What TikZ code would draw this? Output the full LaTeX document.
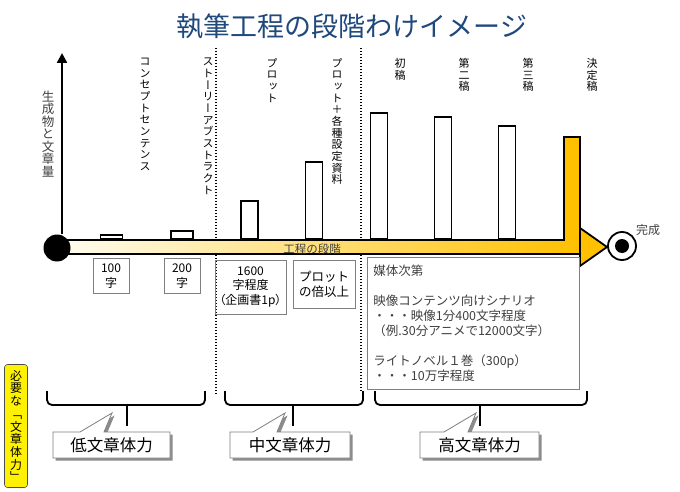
\documentclass[tikz,border=0pt]{standalone}
\usepackage{fontspec}
\setmainfont{Noto Sans CJK JP}
\newfontfamily\vfont[RawFeature=+vert]{Noto Sans CJK JP}
\usetikzlibrary{shadows,arrows.meta}
\definecolor{titleblue}{HTML}{1F497D}
\definecolor{gold}{HTML}{FFC000}
\definecolor{cream}{RGB}{255,253,240}
\definecolor{creammid}{RGB}{254,240,190}
\definecolor{boxgray}{HTML}{7F7F7F}
\definecolor{txtgray}{HTML}{404040}
\def\vtend{VTEND}
\def\vtloop#1{\ifx#1\vtend\else\hbox to 1em{\hss#1\hss}\expandafter\vtloop\fi}
\newcommand\vtxt[2][1.06]{\vbox{\baselineskip=#1em\lineskiplimit=-20pt\relax\vtloop#2\vtend}}
\begin{document}
\begin{tikzpicture}[x=1pt,y=-1pt,
  bar/.style={draw=black, line width=1.8pt, fill=white, anchor=south, minimum width=17, inner sep=0pt},
  vlab/.style={anchor=north, inner sep=0pt, font=\vfont\fontsize{11}{11}\selectfont},
  valbox/.style={draw=boxgray, line width=0.8pt, align=center, font=\fontsize{12}{14.5}\selectfont, inner sep=0pt},
  brace/.style={line width=1.8pt, rounded corners=5pt},
  dotline/.style={line width=1.4pt, dash pattern=on 1.4pt off 1.6pt},
  callout/.style={draw=boxgray, fill=white, line width=0.8pt, drop shadow={shadow xshift=2.5pt, shadow yshift=-2.5pt, fill=black!45, opacity=1}},
  calltext/.style={font=\fontsize{16.5}{18}\selectfont, inner sep=0pt}]
\fill[white] (0,0) rectangle (680,492);
\useasboundingbox (0,0) rectangle (680,492);

% title
\node[font=\fontsize{27}{30}\selectfont, text=titleblue] (title) at (352,26) {執筆工程の段階わけイメージ};

% dotted separators
\coordinate (d1t) at (216,48); \coordinate (d1b) at (216,394);
\coordinate (d2t) at (361,48); \coordinate (d2b) at (361,392);
\draw[dotline] (d1t) -- (d1b);
\draw[dotline] (d2t) -- (d2b);

% process bar
\shade[left color=cream, middle color=creammid, right color=gold] (61,240) rectangle (580,254);
\draw[line width=2.2pt] (61,240) -- (564,240);
\draw[line width=1.8pt] (61,254) -- (580,254);
\node[font=\fontsize{11.5}{13}\selectfont, text=txtgray, inner sep=0pt] (proc) at (312,249) {工程の段階};

% bars
\node[bar, minimum width=22, minimum height=4] (b1) at (111.5,240) {};
\node[bar, minimum width=22, minimum height=8] (b2) at (182,240) {};
\node[bar, minimum height=38] (b3) at (249.5,240) {};
\node[bar, minimum height=77] (b4) at (314,240) {};
\node[bar, minimum height=126] (b5) at (379,240) {};
\node[bar, minimum height=122] (b6) at (443,240) {};
\node[bar, minimum height=113] (b7) at (507,240) {};
\draw[fill=gold, line width=1.8pt] (564,241) -- (564,137) -- (580,137) -- (580,241);

% arrow head of the process bar
\draw[fill=gold, line width=1.8pt, line join=miter] (580,228) -- (607,247) -- (580,266) -- cycle;

% bar labels
\node[vlab] (l1) at (145,58) {\vtxt{コンセプトセンテンス}};
\node[vlab] (l2) at (208,58) {\vtxt{ストーリーアブストラクト}};
\node[vlab] (l3) at (272,58) {\vtxt{プロット}};
\node[vlab] (l4) at (337,58) {\vtxt{プロット＋各種設定資料}};
\node[vlab] (l5) at (400,58) {\vtxt{初稿}};
\node[vlab] (l6) at (464,58) {\vtxt{第二稿}};
\node[vlab] (l7) at (528,58) {\vtxt{第三稿}};
\node[vlab] (l8) at (592,58) {\vtxt{決定稿}};

% axis and start / end circles
\node[circle, fill=black, minimum size=27, inner sep=0pt] (start) at (57,248) {};
\coordinate (ytop) at (62,53);
\draw[line width=2.4pt, -{Triangle[width=10pt,length=10pt]}] (ytop |- start.north) -- (ytop);
\node[anchor=center, inner sep=0pt, text=txtgray, font=\vfont\fontsize{12.5}{12.5}\selectfont] (ylab) at (48,134) {\vtxt[1.0]{生成物と文章量}};
\node[circle, draw=black, line width=1.8pt, fill=white, minimum size=28, inner sep=0pt] (fin) at (622,246) {};
\node[circle, fill=black, minimum size=14, inner sep=0pt] (finc) at (fin.center) {};
\node[font=\fontsize{12}{14}\selectfont, text=txtgray] (done) at (648,230) {完成};

% value boxes
\node[valbox, minimum width=36, minimum height=35] (v1) at (111,276) {100\\字};
\node[valbox, minimum width=36, minimum height=35] (v2) at (182,276) {200\\字};
\node[valbox, minimum width=71, minimum height=54, font=\fontsize{12}{14.5}\selectfont\addfontfeatures{RawFeature=+palt}] (v3) at (250.5,287) {1600\\字程度\\（企画書1p）};
\node[valbox, minimum width=62, minimum height=48, font=\fontsize{12.5}{15}\selectfont] (v4) at (324,284) {プロット\\の倍以上};
\node[draw=boxgray, line width=0.8pt, anchor=north west, minimum width=212, minimum height=132, text width=200, inner xsep=6pt, inner ysep=0pt, align=left, font=\fontsize{12.5}{15}\selectfont, text=txtgray] (media) at (367,257)
 {媒体次第\\\mbox{}\\映像コンテンツ向けシナリオ\\・・・映像1分400文字程度\\（例.30分アニメで12000文字）\\\mbox{}\\ライトノベル１巻（300p）\\・・・10万字程度};

% brackets
\draw[brace] (47,391) -- (47,405) -- (205,405) -- (205,391);
\draw[line width=1.8pt] (127,405) -- (127,426);
\draw[brace] (225,391) -- (225,405) -- (363,405) -- (363,391);
\draw[line width=1.8pt] (293,405) -- (293,426);
\draw[brace] (375,391) -- (375,405) -- (587,405) -- (587,391);
\draw[line width=1.8pt] (480,405) -- (480,426);

% callouts
\path[callout] (53,432) -- (80,432) -- (112,413) -- (104,432) -- (170,432) -- (170,458) -- (53,458) -- cycle;
\node[calltext] (c1) at (111.5,445) {低文章体力};
\path[callout] (230,432) -- (253,432) -- (285,413) -- (277,432) -- (350,432) -- (350,458) -- (230,458) -- cycle;
\node[calltext] (c2) at (290,445) {中文章体力};
\path[callout] (420,432) -- (444,432) -- (476,413) -- (468,432) -- (539,432) -- (539,458) -- (420,458) -- cycle;
\node[calltext] (c3) at (479.5,445) {高文章体力};

% yellow side label
\node[draw=black!70, fill=yellow, line width=0.6pt, rounded corners=3pt, minimum width=23, minimum height=123, inner sep=0pt, font=\vfont\fontsize{12}{12}\selectfont] (need) at (16,426) {\vtxt[1.06]{必要な「文章体力」}};
\end{tikzpicture}
\end{document}
